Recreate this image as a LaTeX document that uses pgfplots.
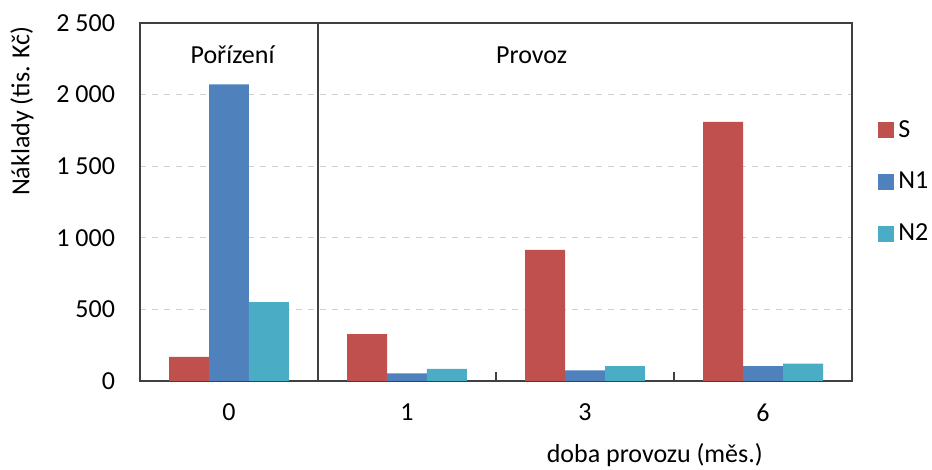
\documentclass[border=0pt]{standalone}
\usepackage{fontspec}
\setmainfont{Carlito}
\usepackage{pgfplots}
\pgfplotsset{compat=1.18}
\usetikzlibrary{calc}

\definecolor{cS}{HTML}{C0504D}
\definecolor{cNa}{HTML}{4F81BD}
\definecolor{cNb}{HTML}{4BACC6}
\definecolor{frame}{HTML}{404040}

\begin{document}
\begin{tikzpicture}
\begin{axis}[
    scale only axis,
    width=356pt, height=179pt,
    font=\fontsize{13}{15}\selectfont,
    xmin=-0.5, xmax=3.5,
    ymin=0, ymax=2500,
    axis line style={frame, line width=0.7pt},
    major tick length=0pt,
    minor tick length=4.5pt,
    tick align=inside,
    tick style={frame, line width=0.7pt},
    xtick={0,1,2,3},
    xticklabels={0,1,3,6},
    minor xtick={1.5,2.5},
    xtick pos=bottom,
    xticklabel style={yshift=-8pt},
    ytick={0,500,...,2500},
    yticklabel style={xshift=-9pt},
    ymajorgrids,
    major grid style={dashed, black!18, line width=0.5pt},
    /pgf/number format/.cd, 1000 sep={\ }, assume math mode=true, /pgfplots/.cd,
    xlabel={doba provozu (měs.)},
    xlabel style={at={(axis description cs:0.723,0)}, anchor=center, yshift=-37pt},
    ylabel={Náklady (tis. Kč)},
    ylabel style={at={(axis description cs:0,0.754)}, anchor=center, yshift=59pt},
    legend style={at={(axis description cs:1.028,0.556)}, anchor=west, draw=none, fill=none,
        row sep=12pt, font=\fontsize{13}{15}\selectfont,
        /tikz/every even column/.append style={column sep=3pt}},
    legend cell align=left,
    legend image code/.code={\fill[#1] (0pt,-4pt) rectangle (8pt,4pt);},
    bar width=0.2247,
]
\addplot[ybar, fill=cS, draw=none, bar shift=-0.2247] coordinates {(0,168) (1,328) (2,915) (3,1810)};
\addplot[ybar, fill=cNa, draw=none, bar shift=0] coordinates {(0,2072) (1,54) (2,75) (3,103)};
\addplot[ybar, fill=cNb, draw=none, bar shift=0.2247] coordinates {(0,550) (1,84) (2,103) (3,121)};
\legend{S, N1, N2}
\draw[frame, line width=0.7pt] (axis cs:0.5,0) -- (axis cs:0.5,2500);
\node at (axis cs:0.02,2277) {Pořízení};
\node at (axis cs:1.70,2277) {Provoz};
\coordinate (sw) at (rel axis cs:0,0);
\end{axis}
\pgfresetboundingbox
\path ($(sw)+(-70pt,-44.5pt)$) rectangle ($(sw)+(396pt,190.5pt)$);
\end{tikzpicture}
\end{document}
